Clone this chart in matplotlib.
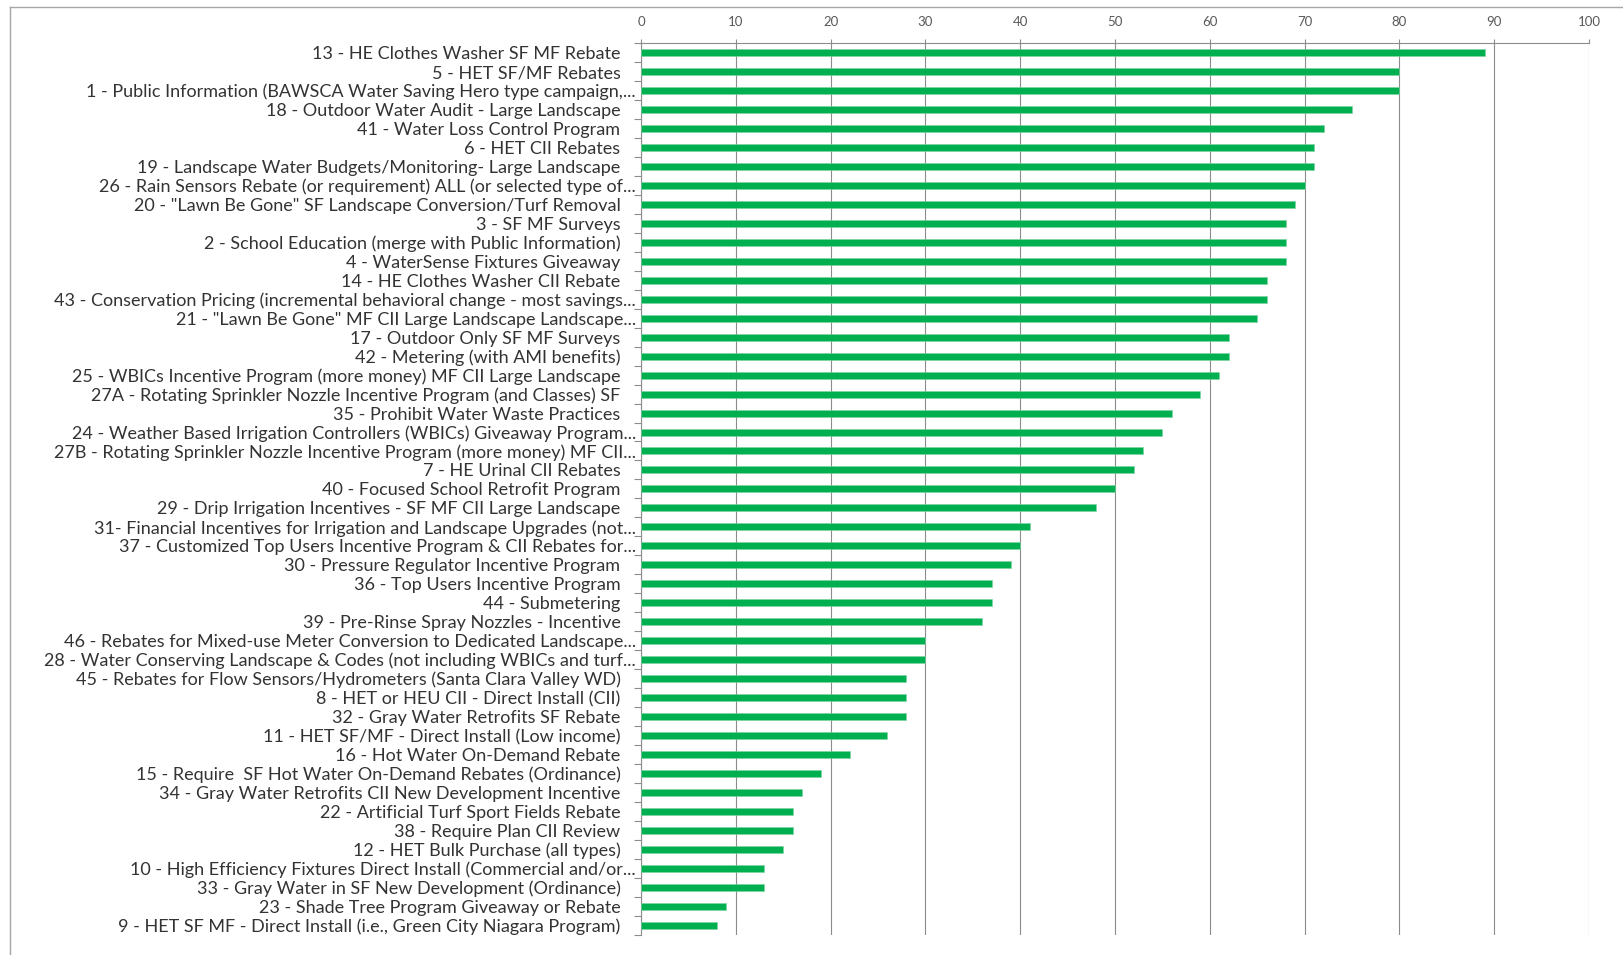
import matplotlib
matplotlib.use("Agg")
import matplotlib.pyplot as plt
import matplotlib.transforms as mtransforms
from matplotlib.lines import Line2D
import numpy as np

labels = [
    "13 - HE Clothes Washer SF MF Rebate",
    "5 - HET SF/MF Rebates",
    "1 - Public Information (BAWSCA Water Saving Hero type campaign,...",
    "18 - Outdoor Water Audit - Large Landscape",
    "41 - Water Loss Control Program",
    "6 - HET CII Rebates",
    "19 - Landscape Water Budgets/Monitoring- Large Landscape",
    "26 - Rain Sensors Rebate (or requirement) ALL (or selected type of...",
    "20 - \"Lawn Be Gone\" SF Landscape Conversion/Turf Removal",
    "3 - SF MF Surveys",
    "2 - School Education (merge with Public Information)",
    "4 - WaterSense Fixtures Giveaway",
    "14 - HE Clothes Washer CII Rebate",
    "43 - Conservation Pricing (incremental behavioral change - most savings...",
    "21 - \"Lawn Be Gone\" MF CII Large Landscape Landscape...",
    "17 - Outdoor Only SF MF Surveys",
    "42 - Metering (with AMI benefits)",
    "25 - WBICs Incentive Program (more money) MF CII Large Landscape",
    "27A - Rotating Sprinkler Nozzle Incentive Program (and Classes) SF",
    "35 - Prohibit Water Waste Practices",
    "24 - Weather Based Irrigation Controllers (WBICs) Giveaway Program...",
    "27B - Rotating Sprinkler Nozzle Incentive Program (more money) MF CII...",
    "7 - HE Urinal CII Rebates",
    "40 - Focused School Retrofit Program",
    "29 - Drip Irrigation Incentives - SF MF CII Large Landscape",
    "31- Financial Incentives for Irrigation and Landscape Upgrades (not...",
    "37 - Customized Top Users Incentive Program & CII Rebates for...",
    "30 - Pressure Regulator Incentive Program",
    "36 - Top Users Incentive Program",
    "44 - Submetering",
    "39 - Pre-Rinse Spray Nozzles - Incentive",
    "46 - Rebates for Mixed-use Meter Conversion to Dedicated Landscape...",
    "28 - Water Conserving Landscape & Codes (not including WBICs and turf...",
    "45 - Rebates for Flow Sensors/Hydrometers (Santa Clara Valley WD)",
    "8 - HET or HEU CII - Direct Install (CII)",
    "32 - Gray Water Retrofits SF Rebate",
    "11 - HET SF/MF - Direct Install (Low income)",
    "16 - Hot Water On-Demand Rebate",
    "15 - Require  SF Hot Water On-Demand Rebates (Ordinance)",
    "34 - Gray Water Retrofits CII New Development Incentive",
    "22 - Artificial Turf Sport Fields Rebate",
    "38 - Require Plan CII Review",
    "12 - HET Bulk Purchase (all types)",
    "10 - High Efficiency Fixtures Direct Install (Commercial and/or...",
    "33 - Gray Water in SF New Development (Ordinance)",
    "23 - Shade Tree Program Giveaway or Rebate",
    "9 - HET SF MF - Direct Install (i.e., Green City Niagara Program)",
]

scores = [89, 80, 80, 75, 72, 71, 71, 70, 69, 68, 68, 68, 66, 66, 65, 62, 62,
          61, 59, 56, 55, 53, 52, 50, 48, 41, 40, 39, 37, 37, 36, 30, 30, 28,
          28, 28, 26, 22, 19, 17, 16, 16, 15, 13, 13, 9, 8]

x_ticks = [0, 10, 20, 30, 40, 50, 60, 70, 80, 90, 100]

W, H = 1624, 955
fig = plt.figure(figsize=(W / 100, H / 100), dpi=100)
fig.patch.set_facecolor("white")

left_px, right_px, top_px, bot_px = 641, 1589, 43.3, 934.5
ax = fig.add_axes([left_px / W, 1 - bot_px / H,
                   (right_px - left_px) / W, (bot_px - top_px) / H])

pos = np.arange(len(labels))
ax.barh(pos, scores, height=0.37, color="#00B050", edgecolor="#7fd3a2",
        linewidth=0.4, zorder=3)

ax.set_xlim(0, 100)
ax.set_ylim(len(labels) - 0.5, -0.5)

grid_col = "#8c8c8c"
ax.set_xticks(x_ticks)
ax.xaxis.tick_top()
ax.tick_params(axis="x", which="major", direction="out", length=3, width=0.8,
               color=grid_col, pad=8, labelsize=9.5, labelcolor="#595959")
for lbl in ax.get_xticklabels():
    lbl.set_fontfamily("Lato")
ax.grid(axis="x", color=grid_col, linewidth=0.8, zorder=0)

ax.set_yticks(pos)
ax.set_yticklabels(labels, fontsize=13, color="#333333", fontfamily="Lato")
ax.set_yticks(np.arange(len(labels) + 1) - 0.5, minor=True)
ax.tick_params(axis="y", which="major", length=0, pad=14.8)
ax.tick_params(axis="y", which="minor", length=5, width=0.8, color=grid_col,
               direction="out")

offset = mtransforms.ScaledTranslation(15.5 / 100, 0, fig.dpi_scale_trans)
for lbl in ax.get_yticklabels():
    if lbl.get_text().endswith("..."):
        lbl.set_transform(lbl.get_transform() + offset)

for s in ["right", "bottom"]:
    ax.spines[s].set_visible(False)
for s in ["left", "top"]:
    ax.spines[s].set_color(grid_col)
    ax.spines[s].set_linewidth(0.8)

# outer chart-area border
fig.add_artist(Line2D([10 / W, 1.0], [1 - 7.5 / H, 1 - 7.5 / H],
                      transform=fig.transFigure, color="#a6a6a6", lw=1))
fig.add_artist(Line2D([10 / W, 10 / W], [0, 1 - 7.5 / H],
                      transform=fig.transFigure, color="#a6a6a6", lw=1))

fig.savefig("out.png", dpi=100, facecolor="white")
